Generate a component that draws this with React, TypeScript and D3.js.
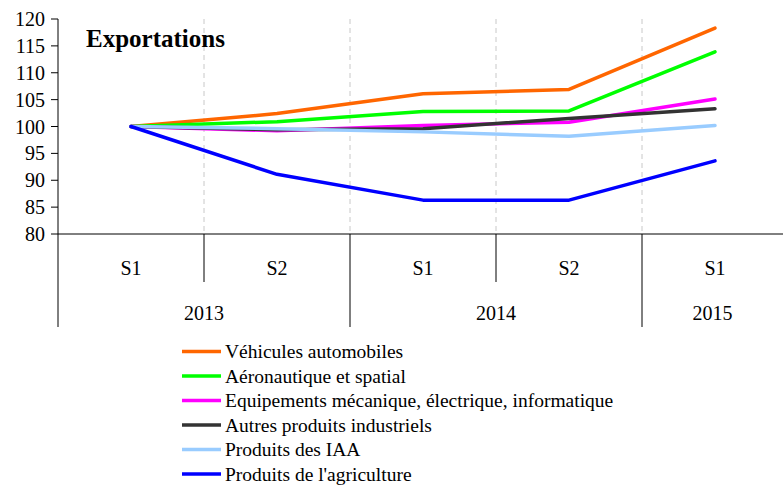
import React from 'react'
import * as d3 from 'd3'

const categories = ['S1 2013', 'S2 2013', 'S1 2014', 'S2 2014', 'S1 2015']
const halfLabels = ['S1', 'S2', 'S1', 'S2', 'S1']
const years = ['2013', '2014', '2015']
const yearSpans = [2, 2, 1]
const yTicks = [80, 85, 90, 95, 100, 105, 110, 115, 120]

const seriesNames = [
  'Véhicules automobiles',
  'Aéronautique et spatial',
  'Equipements mécanique, électrique, informatique',
  'Autres produits industriels',
  'Produits des IAA',
  "Produits de l'agriculture",
]
const seriesColors = ['#ff6600', '#00ff00', '#ff00ff', '#333333', '#99ccff', '#0000ff']

const vehicules = [100, 102.4, 106.1, 106.9, 118.3]
const aero = [100, 100.9, 102.8, 102.9, 113.9]
const equipements = [100, 99.2, 100.2, 100.8, 105.1]
const autres = [100, 99.4, 99.6, 101.5, 103.3]
const iaa = [100, 99.6, 99.0, 98.2, 100.2]
const agriculture = [100, 91.1, 86.3, 86.3, 93.6]

const seriesValues = [vehicules, aero, equipements, autres, iaa, agriculture]

const W = 783
const H = 486
const margin = { left: 58, top: 19, bottom: 234, right: 788 }
const font = '"Liberation Serif", "Times New Roman", serif'

export default function App() {
  const x = d3.scaleBand<string>().domain(categories).range([margin.left, margin.right])
  const y = d3.scaleLinear().domain([80, 120]).range([margin.bottom, margin.top])
  const line = d3.line<number>()
    .x((_, i) => (x(categories[i]) ?? 0) + x.bandwidth() / 2)
    .y(d => y(d))

  // year boundaries (in category index)
  const yearStarts: number[] = []
  let acc = 0
  yearSpans.forEach(s => { yearStarts.push(acc); acc += s })

  return (
    <svg width={W} height={H} style={{ position: 'absolute', left: 0, top: 0, background: '#fff' }} fontFamily={font}>
      {/* dashed separators */}
      {categories.slice(1).map(c => (
        <line key={c} x1={x(c)} x2={x(c)} y1={margin.top} y2={margin.bottom}
          stroke="#c8c8c8" strokeWidth={1} strokeDasharray="5,4" />
      ))}

      {/* y axis */}
      <line x1={margin.left} x2={margin.left} y1={margin.top} y2={margin.bottom} stroke="#000" />
      {yTicks.map(t => (
        <g key={t}>
          <line x1={margin.left - 7} x2={margin.left} y1={y(t)} y2={y(t)} stroke="#000" />
          <text x={45} y={y(t)} textAnchor="end" dominantBaseline="central" fontSize={20} fontFamily={font}>{t}</text>
        </g>
      ))}

      {/* x axis */}
      <line x1={margin.left} x2={W} y1={margin.bottom} y2={margin.bottom} stroke="#000" />
      {categories.map((c, i) => {
        const isYearStart = yearStarts.includes(i)
        const x0 = x(c) ?? 0
        return (
          <g key={c}>
            <line x1={x0} x2={x0} y1={margin.bottom} y2={isYearStart ? 327 : 282} stroke="#000" />
            <text x={x0 + x.bandwidth() / 2} y={268} textAnchor="middle" dominantBaseline="central" fontSize={20} fontFamily={font}>
              {halfLabels[i]}
            </text>
          </g>
        )
      })}
      {years.map((yr, j) => {
        const first = categories[yearStarts[j]]
        const x0 = x(first) ?? 0
        // centre on the visible part of the year span
        const x1 = Math.min(x0 + x.bandwidth() * yearSpans[j], W)
        return (
          <text key={yr} x={(x0 + x1) / 2} y={313} textAnchor="middle" dominantBaseline="central" fontSize={20} fontFamily={font}>
            {yr}
          </text>
        )
      })}

      {/* series */}
      {seriesValues.map((vals, k) => (
        <path key={k} d={line(vals) ?? ''} fill="none" stroke={seriesColors[k]}
          strokeWidth={3.5} strokeLinejoin="round" strokeLinecap="round" />
      ))}

      {/* title */}
      <text x={86} y={47} fontSize={25} fontWeight="bold" fontFamily={font}>Exportations</text>

      {/* legend */}
      {seriesNames.map((name, k) => {
        const ly = 351.5 + k * 24.5
        return (
          <g key={name}>
            <line x1={182} x2={221} y1={ly} y2={ly} stroke={seriesColors[k]} strokeWidth={3.5} />
            <text x={225} y={ly} dominantBaseline="central" fontSize={19.5} fontFamily={font}>{name}</text>
          </g>
        )
      })}
    </svg>
  )
}
